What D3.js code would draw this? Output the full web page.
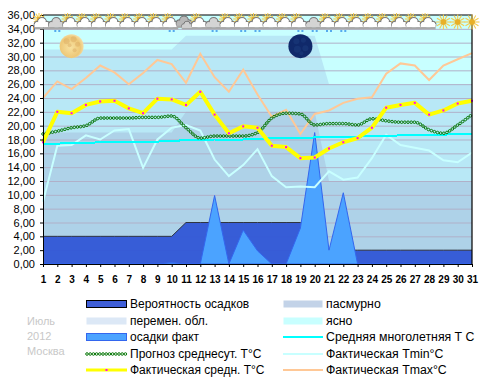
<!DOCTYPE html>
<html>
<head>
<meta charset="utf-8">
<script src="https://cdn.jsdelivr.net/npm/d3@7"></script>
<style>
  body { margin: 0; background: #fff; }
  text { font-family: "Liberation Sans", Arial, sans-serif; }
</style>
</head>
<body>
<div id="viz-container"></div>
<script>
const days = d3.range(1, 32);
const overcastTop = [19,19,19,19,19,19,19,19,19,19,22,22,22,22,22,22,22,22,22,22,12,12,12,12,12,12,12,12,12,12,12];
const variableTop = [31,31,31,31,31,31,31,31,31,31,33,33,33,33,33,33,33,33,33,33,26,26,26,26,26,26,26,26,26,26,26];
const precipChance = [4,4,4,4,4,4,4,4,4,4,6,6,6,6,6,6,6,6,6,6,2,2,2,2,2,2,2,2,2,2,2];
const precipFact = [0,0,0,0,0,0,0,0,0,0.2,0,0,9.9,0,4.9,1.9,0,0,5.2,19,2,10.3,0,0,0,0,0,0,0,0,0];
const forecastT = [18.8,19.2,19.7,20.0,21.1,21.1,21.1,21.2,21.2,21.4,19.7,18.2,18.5,18.5,18.5,19.0,21.1,21.8,21.7,20.1,20.3,20.3,20.1,21.0,20.7,20.5,20.5,19.4,18.9,20.1,21.6];
const factT = [17.6,22.0,21.8,23.0,23.5,23.6,22.5,21.8,23.9,23.8,23.0,24.9,21.6,18.9,19.9,19.7,17.1,16.9,15.3,15.4,16.7,17.6,18.2,19.7,22.6,23.0,23.3,21.6,22.2,23.2,23.6];
const normT = [17.4,17.4,17.5,17.5,17.6,17.6,17.7,17.7,17.7,17.8,17.9,17.9,18.0,18.0,18.0,18.1,18.2,18.2,18.2,18.3,18.3,18.4,18.4,18.5,18.5,18.6,18.6,18.7,18.7,18.8,18.8];
const tMin = [9.0,17.1,17.2,18.6,18.0,19.3,19.5,13.9,18.0,19.7,20.1,19.3,15.1,12.7,14.3,16.6,12.7,11.1,11.2,11.1,13.4,12.2,12.5,15.3,18.7,17.2,16.8,16.4,15.0,14.7,16.1];
const tMax = [24.0,26.4,25.3,26.9,28.7,27.7,26.0,27.6,29.5,28.9,26.2,30.4,27.0,24.9,28.1,24.5,21.3,22.3,18.8,21.7,22.2,23.3,23.9,24.1,27.5,29.0,28.7,26.6,28.7,29.6,30.5];
// s = sun + cloud, g = grey cloud, d = dark clouds, u = sun only
const sky = ["s","g","s","s","s","s","s","s","s","s","d","s","g","s","s","s","s","s","s","g","s","s","s","s","s","s","s","s","u","u","u"];
const rainDays = [2,10,13,15,16,19,20,21,22];
const yTicks = d3.range(0, 37, 2);

const width = 486;
const height = 384;
const marginTop = 15;
const marginLeft = 43;
const plotRight = 472;
const plotBottom = 264;

const svg = d3.select("#viz-container")
  .append("svg")
  .attr("width", width)
  .attr("height", height)
  .style("display", "block");

const x = d3.scaleLinear().domain([1, 31]).range([marginLeft, plotRight]);
const y = d3.scaleLinear().domain([0, 36]).range([plotBottom, marginTop]);

const area = vals => d3.area()
  .x((d, i) => x(days[i]))
  .y0(plotBottom)
  .y1((d, i) => y(vals[i]))(vals);
const line = (vals, curve) => d3.line()
  .x((d, i) => x(days[i]))
  .y(d => y(d))
  .curve(curve || d3.curveLinear)(vals);

// sky cover bands
svg.append("rect")
  .attr("x", marginLeft).attr("y", marginTop)
  .attr("width", plotRight - marginLeft).attr("height", plotBottom - marginTop)
  .attr("fill", "#c8ffff");
svg.append("path").attr("d", area(variableTop)).attr("fill", "#b8e8f6");
svg.append("path").attr("d", area(overcastTop)).attr("fill", "#aed2e8");

// grid
svg.append("g")
  .attr("transform", `translate(${marginLeft},0)`)
  .call(d3.axisRight(y).tickValues(yTicks.slice(1, -1)).tickSize(plotRight - marginLeft).tickFormat(""))
  .call(g => g.select(".domain").remove())
  .call(g => g.selectAll("line").attr("stroke", "#b0b0c8").attr("stroke-width", 1));

// precipitation
svg.append("path").attr("d", area(precipChance)).attr("fill", "#3056d6").attr("fill-opacity", 0.95);
svg.append("path").attr("d", line(precipChance)).attr("fill", "none").attr("stroke", "#2f3540").attr("stroke-width", 1);
svg.append("path").attr("d", area(precipFact)).attr("fill", "#4ba3ff").attr("stroke", "#3366ee").attr("stroke-width", 1);

// moon phases
const defs = svg.append("defs");
const fullGrad = defs.append("radialGradient").attr("id", "fullMoon").attr("cx", "45%").attr("cy", "55%").attr("r", "60%");
fullGrad.append("stop").attr("offset", "0%").attr("stop-color", "#f8e2a0");
fullGrad.append("stop").attr("offset", "70%").attr("stop-color", "#eec878");
fullGrad.append("stop").attr("offset", "100%").attr("stop-color", "#f6e4b4");
const moonFull = 3;
const moonNew = 19;
const moonLevel = 31.5;
const moonFullG = svg.append("g").attr("transform", `translate(${x(moonFull)},${y(moonLevel)})`);
moonFullG.append("circle").attr("r", 12).attr("fill", "url(#fullMoon)");
[[-5,-5,3],[2,-7,3],[6,-2,2.5],[-2,-1,2],[3,4,2]].forEach(c =>
  moonFullG.append("circle").attr("cx", c[0]).attr("cy", c[1]).attr("r", c[2]).attr("fill", "#d9a860").attr("fill-opacity", 0.45));
const moonNewG = svg.append("g").attr("transform", `translate(${x(moonNew)},${y(moonLevel)})`);
moonNewG.append("circle").attr("r", 12).attr("fill", "#10296a");
[[-4,-5,3],[3,-6,2.5],[5,2,3],[-3,3,3.5],[1,7,2]].forEach(c =>
  moonNewG.append("circle").attr("cx", c[0]).attr("cy", c[1]).attr("r", c[2]).attr("fill", "#1a3a7c").attr("fill-opacity", 0.6));

// temperature lines
svg.append("path").attr("d", line(tMax)).attr("fill", "none").attr("stroke", "#ffc896").attr("stroke-width", 2);
svg.append("path").attr("d", line(tMin)).attr("fill", "none").attr("stroke", "#c8ffff").attr("stroke-width", 2);
svg.append("path").attr("d", line(normT)).attr("fill", "none").attr("stroke", "#00ffff").attr("stroke-width", 2).attr("shape-rendering", "crispEdges");

function ringLine(parent, d) {
  const guide = parent.append("path").attr("d", d).attr("fill", "none").attr("stroke", "none");
  const node = guide.node();
  const len = node.getTotalLength();
  d3.range(0, len, 3.2).forEach(l => {
    const p = node.getPointAtLength(l);
    parent.append("circle").attr("cx", p.x).attr("cy", p.y).attr("r", 1.3)
      .attr("fill", "none").attr("stroke", "#087808").attr("stroke-width", 1);
  });
}
ringLine(svg.append("g"), line(forecastT, d3.curveMonotoneX));

svg.append("path").attr("d", line(factT)).attr("fill", "none").attr("stroke", "#ffff00").attr("stroke-width", 4).attr("stroke-linejoin", "round");
svg.append("g").selectAll("rect").data(factT).join("rect")
  .attr("x", (d, i) => x(days[i]) - 1)
  .attr("y", d => y(d) - 1)
  .attr("width", 2).attr("height", 2)
  .attr("fill", "#ff00ff");

// frame and axes
svg.append("path")
  .attr("d", d3.line()([[marginLeft, marginTop], [plotRight, marginTop], [plotRight, plotBottom]]))
  .attr("fill", "none").attr("stroke", "#000").attr("stroke-width", 1.2);

svg.append("g")
  .attr("transform", `translate(${marginLeft},0)`)
  .call(d3.axisLeft(y).tickValues(yTicks).tickSize(3).tickPadding(5).tickFormat(d => d.toFixed(2).replace(".", ",")))
  .call(g => g.selectAll("text").attr("font-size", 11).attr("fill", "#000").attr("font-family", "Liberation Sans"));

svg.append("g")
  .attr("transform", `translate(0,${plotBottom})`)
  .call(d3.axisBottom(x).tickValues(days).tickSize(3).tickPadding(9).tickFormat(d => d))
  .call(g => g.selectAll("text").attr("font-size", 10).attr("font-weight", "bold").attr("fill", "#000").attr("font-family", "Liberation Sans"));

// weather icons
function drawCloud(g, fill, edge, dx, dy, k) {
  const c = g.append("g").attr("transform", `translate(${dx},${dy}) scale(${k})`);
  [[-4.5, 1.5, 3.2], [0, -1, 4.4], [4.5, 1.5, 3.2]].forEach(b =>
    c.append("circle").attr("cx", b[0]).attr("cy", b[1]).attr("r", b[2]).attr("fill", fill).attr("stroke", edge).attr("stroke-width", 1.3));
  c.append("rect").attr("x", -7.5).attr("y", 1).attr("width", 15).attr("height", 3.5).attr("fill", fill);
  [[-4.5, 1.5, 2.6], [0, -1, 3.7], [4.5, 1.5, 2.6]].forEach(b =>
    c.append("circle").attr("cx", b[0]).attr("cy", b[1]).attr("r", b[2]).attr("fill", fill));
  c.append("rect").attr("x", -7.5).attr("y", 4.2).attr("width", 15).attr("height", 2.2).attr("fill", "#a8a8a8");
}
function drawSun(g, dx, dy, rayLen, core) {
  const s = g.append("g").attr("transform", `translate(${dx},${dy})`);
  d3.range(0, 12).forEach(i => {
    const a = i * Math.PI / 6;
    s.append("line")
      .attr("x1", Math.cos(a) * core).attr("y1", Math.sin(a) * core)
      .attr("x2", Math.cos(a) * rayLen).attr("y2", Math.sin(a) * rayLen)
      .attr("stroke", "#f4cc50").attr("stroke-width", 1.1);
  });
  s.append("circle").attr("r", core).attr("fill", "#e8b028");
}
sky.forEach((kind, i) => {
  const g = svg.append("g").attr("transform", `translate(${x(days[i]) - 1},23)`);
  if (kind === "s") {
    drawSun(g, -3, -4, 6, 2.4);
    drawCloud(g, "#ffffff", "#7c7c7c", 0, 0, 1);
  } else if (kind === "g") {
    drawCloud(g, "#d4d4d4", "#7c7c7c", 0, 0, 1);
  } else if (kind === "d") {
    drawCloud(g, "#b8b8b8", "#787878", -1, -1.5, 1);
    drawCloud(g, "#cfcfcf", "#686868", 2, 2, 0.7);
  } else {
    drawSun(g, 1, -1, 7.5, 3);
  }
});
svg.append("g").selectAll("g").data(rainDays).join("g")
  .attr("transform", d => `translate(${x(d)},30)`)
  .call(g => g.append("rect").attr("x", -3).attr("width", 2).attr("height", 2).attr("fill", "#55aaee"))
  .call(g => g.append("rect").attr("x", 1).attr("width", 2).attr("height", 2).attr("fill", "#55aaee"));

// legend
const legendLeft = [
  {label: "Вероятность осадков", type: "box", fill: "#3f5fd8", stroke: "#000"},
  {label: "перемен. обл.", type: "box", fill: "#dce8f6"},
  {label: "осадки факт", type: "box", fill: "#4ba3ff", stroke: "#3366ee"},
  {label: "Прогноз среднесут. T°C", type: "rings"},
  {label: "Фактическая средн. T°C", type: "fact"}
];
const legendRight = [
  {label: "пасмурно", type: "box", fill: "#c3d3e8"},
  {label: "ясно", type: "box", fill: "#c8ffff"},
  {label: "Средняя многолетняя Т С", type: "line", stroke: "#00ffff"},
  {label: "Фактическая Tmin°C", type: "line", stroke: "#c8ffff"},
  {label: "Фактическая Tmax°C", type: "line", stroke: "#ffc896"}
];
const legendRows = [304, 321, 337, 354, 370];
const legendText = ["Июль", "2012", "Москва"];

function drawLegend(items, swatchX, swatchW, fontSize) {
  items.forEach((item, i) => {
    const g = svg.append("g").attr("transform", `translate(${swatchX},${legendRows[i]})`);
    if (item.type === "box") {
      g.append("rect").attr("x", 0.5).attr("y", -3.5).attr("width", swatchW - 1).attr("height", 7)
        .attr("fill", item.fill).attr("stroke", item.stroke || "none").attr("stroke-width", 1);
    } else if (item.type === "line") {
      g.append("line").attr("x1", 0).attr("x2", swatchW).attr("stroke", item.stroke).attr("stroke-width", 2);
    } else if (item.type === "rings") {
      ringLine(g, `M1,0H${swatchW - 1}`);
    } else {
      g.append("line").attr("x1", 0).attr("x2", swatchW).attr("stroke", "#ffff00").attr("stroke-width", 3);
      g.append("rect").attr("x", swatchW / 2 - 1).attr("y", -1).attr("width", 2).attr("height", 2).attr("fill", "#ff00ff");
    }
    g.append("text").attr("x", swatchW + 3).attr("dy", "0.35em").attr("font-size", fontSize).attr("fill", "#000").text(item.label);
  });
}
drawLegend(legendLeft, 86, 41, 12);
drawLegend(legendRight, 283, 40, 12.3);

svg.append("g").selectAll("text").data(legendText).join("text")
  .attr("x", 27)
  .attr("y", (d, i) => 321 + i * 15)
  .attr("dy", "0.35em")
  .attr("font-size", 11)
  .attr("fill", "#c8c8c8")
  .text(d => d);
</script>
</body>
</html>
